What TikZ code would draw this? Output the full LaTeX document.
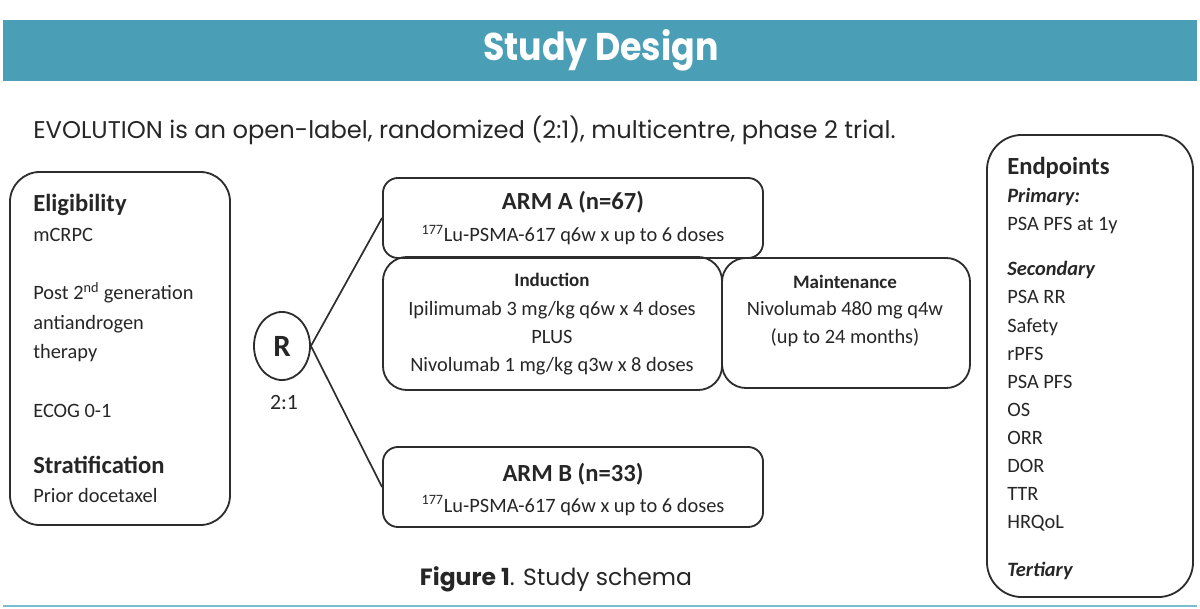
\documentclass[tikz,border=0pt]{standalone}
\usepackage{fontspec}
\setmainfont{Carlito}
\newfontfamily\gothic{Poppins}
\usepackage{tikz}
\usetikzlibrary{positioning,shapes.geometric}
\definecolor{bandteal}{RGB}{74,158,181}
\definecolor{lineteal}{RGB}{120,190,208}
\definecolor{inkgray}{RGB}{38,38,38}
\definecolor{boxgray}{RGB}{45,45,45}
\tikzset{
  rbox/.style={draw=boxgray, line width=1.3pt, rectangle, inner sep=0pt},
  btxt/.style={font=\fontsize{14.5}{17}\selectfont, text=inkgray, inner sep=0pt, anchor=base west},
  bhead/.style={font=\fontsize{17.5}{20}\selectfont\bfseries, text=inkgray, inner sep=0pt, anchor=base west},
  ihead/.style={font=\fontsize{14.5}{17}\selectfont\bfseries\itshape, text=inkgray, inner sep=0pt, anchor=base west},
  ctxt/.style={btxt, anchor=base},
  chead/.style={bhead, anchor=base},
  shead/.style={font=\fontsize{13.5}{16}\selectfont\bfseries, text=inkgray, inner sep=0pt, anchor=base},
  link/.style={boxgray, line width=1.2pt},
}

\begin{document}
\begin{tikzpicture}[x=0.025cm, y=-0.025cm]
  \useasboundingbox (0,0) rectangle (1200,609);
  % header band
  \fill[bandteal] (3,20) rectangle (1197,81);
  \node[font=\gothic\bfseries\fontsize{27.5}{30}\selectfont, text=white] (title) at (601,50)
    {\scalebox{0.9}[1]{Study Design}};
  \node[font=\gothic\fontsize{17.2}{20}\selectfont, text=inkgray, inner sep=0pt, anchor=base west] (intro) at (33,139)
    {EVOLUTION is an open-label, randomized (2:1), multicentre, phase 2 trial.};
  % eligibility
  \node[rbox, rounded corners=0.75cm, minimum width=5.5cm, minimum height=8.825cm] (elig) at (120,348.5) {};
  \node[bhead] (eligh) at (33,212) {Eligibility};
  \node[btxt] (e1) at (33,242) {mCRPC};
  \node[btxt] (e2) at (33,300) {Post 2\textsuperscript{nd} generation};
  \node[btxt] (e3) at (33,329) {antiandrogen};
  \node[btxt] (e4) at (33,358) {therapy};
  \node[btxt] (e5) at (33,417) {ECOG 0-1};
  \node[bhead] (strath) at (33,473) {Stratification};
  \node[btxt] (s1) at (33,502) {Prior docetaxel};
  % randomisation
  \node[ellipse, draw=boxgray, line width=1.3pt, minimum width=1.4cm, minimum height=1.7cm, inner sep=0pt,
    font=\fontsize{22}{24}\selectfont\bfseries, text=inkgray] (R) at (282,346) {R};
  \node[btxt, anchor=center, font=\fontsize{15.5}{18}\selectfont] (ratio) at (284,403) {2:1};
  % arms
  \node[rbox, rounded corners=0.375cm, minimum width=9.5cm, minimum height=2cm] (armA) at (573,218) {};
  \node[chead] (armAh) at (573,210) {ARM A (n=67)};
  \node[ctxt] (armAt) at (573,242) {\textsuperscript{177}Lu-PSMA-617 q6w x up to 6 doses};
  \node[rbox, rounded corners=0.6cm, minimum width=8.475cm, minimum height=3.325cm] (induc) at (552.5,323.5) {};
  \node[shead] (induch) at (552,287) {Induction};
  \node[ctxt] (i1) at (552,316) {Ipilimumab 3 mg/kg q6w x 4 doses};
  \node[ctxt] (i2) at (552,343) {PLUS};
  \node[ctxt] (i3) at (552,371) {Nivolumab 1 mg/kg q3w x 8 doses};
  \node[rbox, rounded corners=0.6cm, minimum width=6.2cm, minimum height=3.25cm] (maint) at (846,323) {};
  \node[shead] (mainth) at (845,288) {Maintenance};
  \node[ctxt] (m1) at (845,316) {Nivolumab 480 mg q4w};
  \node[ctxt] (m2) at (845,343) {(up to 24 months)};
  \node[rbox, rounded corners=0.375cm, minimum width=9.5cm, minimum height=2cm] (armB) at (573,487) {};
  \node[chead] (armBh) at (573,481) {ARM B (n=33)};
  \node[ctxt] (armBt) at (573,512) {\textsuperscript{177}Lu-PSMA-617 q6w x up to 6 doses};
  \draw[link] (R.east) -- (armA.west);
  \draw[link] (R.east) -- (armB.west);
  % endpoints
  \node[rbox, rounded corners=0.875cm, minimum width=5.15cm, minimum height=11.55cm] (endp) at (1090,366) {};
  \node[bhead] (endph) at (1007,175) {Endpoints};
  \node[ihead] (prim) at (1007,203) {Primary:};
  \node[btxt] (p1) at (1007,231) {PSA PFS at 1y};
  \node[ihead] (sec) at (1007,276) {Secondary};
  \node[btxt] (c1) at (1007,304) {PSA RR};
  \node[btxt] (c2) at (1007,332) {Safety};
  \node[btxt] (c3) at (1007,360) {rPFS};
  \node[btxt] (c4) at (1007,388) {PSA PFS};
  \node[btxt] (c5) at (1007,416) {OS};
  \node[btxt] (c6) at (1007,444) {ORR};
  \node[btxt] (c7) at (1007,472) {DOR};
  \node[btxt] (c8) at (1007,500) {TTR};
  \node[btxt] (c9) at (1007,528) {HRQoL};
  \node[ihead] (tert) at (1007,576) {Tertiary};
  % caption and rule
  \node[font=\gothic\fontsize{16.7}{19}\selectfont, text=inkgray, inner sep=0pt, anchor=base] (capt) at (556,585)
    {\textbf{Figure 1}. Study schema};
  \draw[lineteal, line width=2pt] (3,606) -- (1197,606);
\end{tikzpicture}
\end{document}
